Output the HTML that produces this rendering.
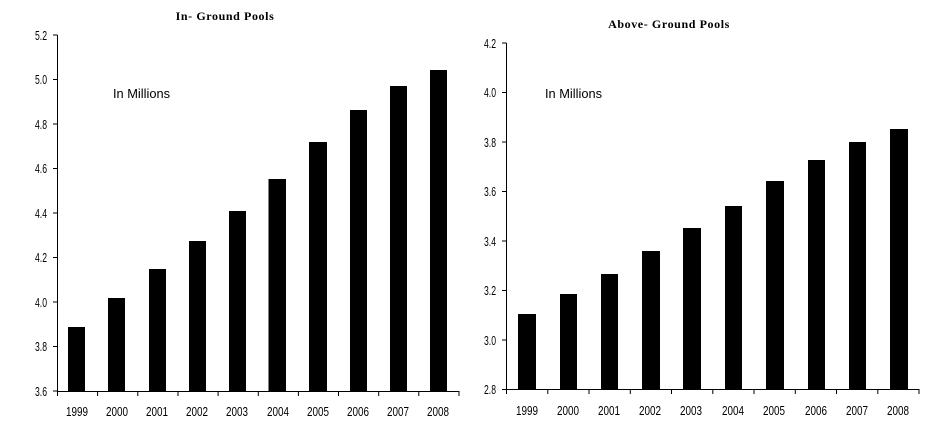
<!DOCTYPE html>
<html><head><style>
html,body{margin:0;padding:0;background:#fff}
svg{display:block}
text{font-family:"Liberation Sans",Arial,sans-serif;font-size:13px;fill:#000}
.t{font-family:"Liberation Serif",serif;font-weight:bold;font-size:12px;letter-spacing:0.6px}
</style></head><body>
<svg width="932" height="430" viewBox="0 0 932 430" xmlns="http://www.w3.org/2000/svg">
<!-- Left chart -->
<text class="t" x="225" y="20" text-anchor="middle">In- Ground Pools</text>
<text x="113" y="98" textLength="57" lengthAdjust="spacingAndGlyphs">In Millions</text>
<g stroke="#000" stroke-width="1" fill="none">
<line x1="57.5" y1="35" x2="57.5" y2="396"/>
<line x1="57.5" y1="391.5" x2="459" y2="391.5"/>
<line x1="53" y1="35" x2="57.5" y2="35"/><line x1="53" y1="79.5" x2="57.5" y2="79.5"/>
<line x1="53" y1="124" x2="57.5" y2="124"/><line x1="53" y1="168.5" x2="57.5" y2="168.5"/>
<line x1="53" y1="213" x2="57.5" y2="213"/><line x1="53" y1="257.5" x2="57.5" y2="257.5"/>
<line x1="53" y1="302" x2="57.5" y2="302"/><line x1="53" y1="346.5" x2="57.5" y2="346.5"/>
<line x1="53" y1="391" x2="57.5" y2="391"/>
<line x1="97.6" y1="391" x2="97.6" y2="396"/><line x1="137.8" y1="391" x2="137.8" y2="396"/>
<line x1="178" y1="391" x2="178" y2="396"/><line x1="218.1" y1="391" x2="218.1" y2="396"/>
<line x1="258.3" y1="391" x2="258.3" y2="396"/><line x1="298.4" y1="391" x2="298.4" y2="396"/>
<line x1="338.5" y1="391" x2="338.5" y2="396"/><line x1="378.7" y1="391" x2="378.7" y2="396"/>
<line x1="418.8" y1="391" x2="418.8" y2="396"/><line x1="459" y1="391" x2="459" y2="396"/>
</g>
<g>
<text x="35" y="40" textLength="12" lengthAdjust="spacingAndGlyphs">5.2</text>
<text x="35" y="84" textLength="12" lengthAdjust="spacingAndGlyphs">5.0</text>
<text x="35" y="129" textLength="12" lengthAdjust="spacingAndGlyphs">4.8</text>
<text x="35" y="173" textLength="12" lengthAdjust="spacingAndGlyphs">4.6</text>
<text x="35" y="218" textLength="12" lengthAdjust="spacingAndGlyphs">4.4</text>
<text x="35" y="262" textLength="12" lengthAdjust="spacingAndGlyphs">4.2</text>
<text x="35" y="307" textLength="12" lengthAdjust="spacingAndGlyphs">4.0</text>
<text x="35" y="351" textLength="12" lengthAdjust="spacingAndGlyphs">3.8</text>
<text x="35" y="396" textLength="12" lengthAdjust="spacingAndGlyphs">3.6</text>
</g>
<g fill="#000">
<rect x="68" y="327" width="17" height="64"/><rect x="108" y="298" width="17" height="93"/>
<rect x="149" y="269" width="17" height="122"/><rect x="189" y="241" width="17" height="150"/>
<rect x="229" y="211" width="17" height="180"/><rect x="268.5" y="179" width="17.5" height="212"/>
<rect x="309" y="142" width="18" height="249"/><rect x="350" y="110" width="17" height="281"/>
<rect x="390" y="86" width="17" height="305"/><rect x="430" y="70" width="17" height="321"/>
</g>
<g>
<text x="66" y="416" textLength="22" lengthAdjust="spacingAndGlyphs">1999</text>
<text x="106" y="416" textLength="22" lengthAdjust="spacingAndGlyphs">2000</text>
<text x="146" y="416" textLength="22" lengthAdjust="spacingAndGlyphs">2001</text>
<text x="186" y="416" textLength="22" lengthAdjust="spacingAndGlyphs">2002</text>
<text x="226" y="416" textLength="22" lengthAdjust="spacingAndGlyphs">2003</text>
<text x="267" y="416" textLength="22" lengthAdjust="spacingAndGlyphs">2004</text>
<text x="307" y="416" textLength="22" lengthAdjust="spacingAndGlyphs">2005</text>
<text x="347" y="416" textLength="22" lengthAdjust="spacingAndGlyphs">2006</text>
<text x="387" y="416" textLength="22" lengthAdjust="spacingAndGlyphs">2007</text>
<text x="427" y="416" textLength="22" lengthAdjust="spacingAndGlyphs">2008</text>
</g>
<!-- Right chart -->
<text class="t" x="669" y="28" text-anchor="middle">Above- Ground Pools</text>
<text x="545" y="98" textLength="57" lengthAdjust="spacingAndGlyphs">In Millions</text>
<g stroke="#000" stroke-width="1" fill="none">
<line x1="506.5" y1="43" x2="506.5" y2="394"/>
<line x1="506.5" y1="389.5" x2="919" y2="389.5"/>
<line x1="502" y1="43" x2="506.5" y2="43"/><line x1="502" y1="92.5" x2="506.5" y2="92.5"/>
<line x1="502" y1="142" x2="506.5" y2="142"/><line x1="502" y1="191.5" x2="506.5" y2="191.5"/>
<line x1="502" y1="241" x2="506.5" y2="241"/><line x1="502" y1="290.5" x2="506.5" y2="290.5"/>
<line x1="502" y1="340" x2="506.5" y2="340"/><line x1="502" y1="389.5" x2="506.5" y2="389.5"/>
<line x1="547.8" y1="389" x2="547.8" y2="394"/><line x1="589" y1="389" x2="589" y2="394"/>
<line x1="630.3" y1="389" x2="630.3" y2="394"/><line x1="671.5" y1="389" x2="671.5" y2="394"/>
<line x1="712.8" y1="389" x2="712.8" y2="394"/><line x1="754" y1="389" x2="754" y2="394"/>
<line x1="795.3" y1="389" x2="795.3" y2="394"/><line x1="836.5" y1="389" x2="836.5" y2="394"/>
<line x1="877.8" y1="389" x2="877.8" y2="394"/><line x1="919" y1="389" x2="919" y2="394"/>
</g>
<g>
<text x="484" y="48" textLength="12" lengthAdjust="spacingAndGlyphs">4.2</text>
<text x="484" y="97" textLength="12" lengthAdjust="spacingAndGlyphs">4.0</text>
<text x="484" y="147" textLength="12" lengthAdjust="spacingAndGlyphs">3.8</text>
<text x="484" y="196" textLength="12" lengthAdjust="spacingAndGlyphs">3.6</text>
<text x="484" y="246" textLength="12" lengthAdjust="spacingAndGlyphs">3.4</text>
<text x="484" y="295" textLength="12" lengthAdjust="spacingAndGlyphs">3.2</text>
<text x="484" y="345" textLength="12" lengthAdjust="spacingAndGlyphs">3.0</text>
<text x="484" y="394" textLength="12" lengthAdjust="spacingAndGlyphs">2.8</text>
</g>
<g fill="#000">
<rect x="518" y="314" width="18" height="75"/><rect x="560" y="294" width="17" height="95"/>
<rect x="601" y="274" width="17" height="115"/><rect x="642" y="251" width="18" height="138"/>
<rect x="683" y="228" width="18" height="161"/><rect x="725" y="206" width="17" height="183"/>
<rect x="766" y="181" width="18" height="208"/><rect x="808" y="160" width="17" height="229"/>
<rect x="849" y="142" width="17" height="247"/><rect x="890" y="129" width="18" height="260"/>
</g>
<g>
<text x="516" y="415" textLength="22" lengthAdjust="spacingAndGlyphs">1999</text>
<text x="557" y="415" textLength="22" lengthAdjust="spacingAndGlyphs">2000</text>
<text x="598" y="415" textLength="22" lengthAdjust="spacingAndGlyphs">2001</text>
<text x="639" y="415" textLength="22" lengthAdjust="spacingAndGlyphs">2002</text>
<text x="680" y="415" textLength="22" lengthAdjust="spacingAndGlyphs">2003</text>
<text x="722" y="415" textLength="22" lengthAdjust="spacingAndGlyphs">2004</text>
<text x="763" y="415" textLength="22" lengthAdjust="spacingAndGlyphs">2005</text>
<text x="805" y="415" textLength="22" lengthAdjust="spacingAndGlyphs">2006</text>
<text x="846" y="415" textLength="22" lengthAdjust="spacingAndGlyphs">2007</text>
<text x="887" y="415" textLength="22" lengthAdjust="spacingAndGlyphs">2008</text>
</g>
</svg>
</body></html>
